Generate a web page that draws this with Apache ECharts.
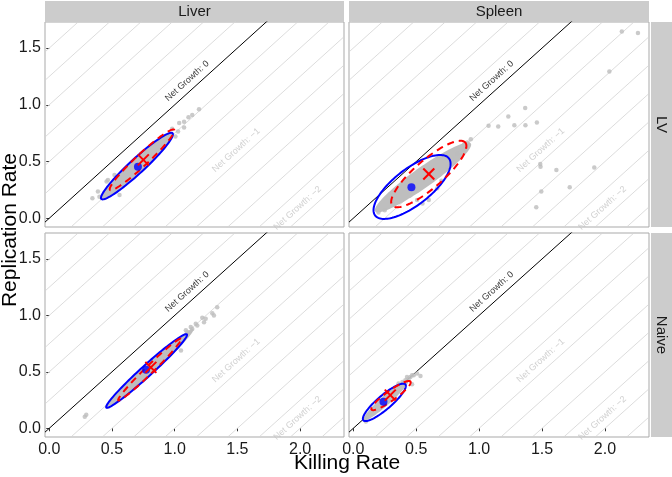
<!DOCTYPE html>
<html><head><meta charset="utf-8">
<script src="https://cdn.jsdelivr.net/npm/echarts@6/dist/echarts.min.js"></script>
<style>html,body{margin:0;padding:0;background:#fff}#c{width:672px;height:477px}</style>
</head><body><div id="c"></div>
<script>
// ---------- data ----------
const tissues = ['Liver', 'Spleen'];
const groups = ['LV', 'Naive'];
const xTicks = [0, 0.5, 1, 1.5, 2];
const yTicks = [0, 0.5, 1, 1.5];
const xLimits = [-0.034, 2.35];
const yLimits = [-0.077, 1.73];
const xTitle = 'Killing Rate';
const yTitle = 'Replication Rate';

// net growth iso-lines: replication = killing + c
const netGrowthIntercepts = [-2.5, -2.25, -2, -1.75, -1.5, -1.25, -1, -0.75, -0.5, -0.25, 0, 0.25, 0.5, 0.75, 1, 1.25, 1.5, 1.75];
const netGrowthLabelLevels = [0, -1, -2];
const netGrowthLabelText = ['Net Growth: 0', 'Net Growth: \u22121', 'Net Growth: \u22122'];
const netGrowthLabelX = [1.1, 1.49, 1.98];

// panels: 0 Liver/LV, 1 Spleen/LV, 2 Liver/Naive, 3 Spleen/Naive
const pointsLiverLV = [[0.344,0.177],[0.388,0.235],[0.40,0.19],[0.457,0.323],[0.468,0.338],[0.52,0.382],[0.547,0.279],[0.56,0.206],[0.557,0.26],[0.84,0.656],[0.85,0.67],[0.98,0.79],[1.006,0.72],[1.027,0.764],[1.036,0.84],[1.075,0.80],[1.075,0.85],[1.11,0.89],[1.14,0.91],[1.194,0.962]];
const pointsSpleenLV = [[2.134,1.647],[2.262,1.633],[2.035,1.294],[1.366,0.971],[1.232,0.897],[1.075,0.815],[1.152,0.809],[1.28,0.82],[1.368,0.82],[1.459,0.844],[0.934,0.697],[0.907,0.667],[0.88,0.65],[1.486,0.479],[1.488,0.455],[1.614,0.426],[1.915,0.447],[1.494,0.235],[1.72,0.274],[1.454,0.097],[0.827,0.574],[0.6,0.16],[0.507,0.16],[0.667,0.265],[0.55,0.13],[0.2,0.05],[0.25,0.07],[0.75,0.45],[0.7,0.33]];
const pointsLiverNaive = [[0.283,0.102],[0.295,0.12],[0.47,0.19],[1.05,0.69],[1.089,0.868],[1.10,0.853],[1.128,0.897],[1.14,0.88],[1.168,0.927],[1.18,0.91],[1.22,0.98],[1.234,0.94],[1.247,0.97],[1.30,1.02],[1.313,1.0],[1.339,1.073]];
const pointsSpleenNaive = [[0.1,0.06],[0.36,0.397],[0.39,0.41],[0.414,0.426],[0.427,0.455],[0.44,0.44],[0.454,0.455],[0.467,0.39],[0.467,0.47],[0.48,0.47],[0.507,0.485],[0.534,0.464]];

// ellipses: [centerX, centerY, majorX, majorY, minorX, minorY] (data units)
const cloudLiverLV = [0.699, 0.46, 0.284, 0.29, -0.04, 0.047];
const cloudSpleenLV = [0.554, 0.36, 0.38, 0.30, -0.047, 0.071];
const cloudLiverNaive = [0.80, 0.53, 0.35, 0.35, -0.029, 0.035];
const cloudSpleenNaive = [0.26, 0.25, 0.18, 0.18, -0.025, 0.032];

const blueEllipseLiverLV = [0.699, 0.46, 0.284, 0.29, -0.04, 0.047];
const blueEllipseSpleenLV = [0.467, 0.276, 0.293, 0.252, -0.089, 0.126];
const blueEllipseLiverNaive = [0.776, 0.508, 0.321, 0.324, -0.0295, 0.036];
const blueEllipseSpleenNaive = [0.247, 0.23, 0.167, 0.159, -0.036, 0.047];

const redEllipseLiverLV = [0.74, 0.515, 0.256, 0.265, -0.032, 0.039];
const redEllipseSpleenLV = [0.60, 0.39, 0.29, 0.278, -0.073, 0.093];
const redEllipseLiverNaive = [0.80, 0.52, 0.25, 0.272, -0.021, 0.026];
const redEllipseSpleenNaive = [0.30, 0.29, 0.154, 0.125, -0.026, 0.033];

const blueCenters = [[0.707,0.455],[0.462,0.273],[0.772,0.518],[0.24,0.235]];
const redCenters = [[0.75,0.515],[0.60,0.39],[0.81,0.54],[0.294,0.294]];

const panelPoints = [pointsLiverLV, pointsSpleenLV, pointsLiverNaive, pointsSpleenNaive];
const panelClouds = [cloudLiverLV, cloudSpleenLV, cloudLiverNaive, cloudSpleenNaive];
const panelBlue = [blueEllipseLiverLV, blueEllipseSpleenLV, blueEllipseLiverNaive, blueEllipseSpleenNaive];
const panelRed = [redEllipseLiverLV, redEllipseSpleenLV, redEllipseLiverNaive, redEllipseSpleenNaive];

// ---------- build ----------
const FONT = 'Liberation Sans, Arial, Helvetica, sans-serif';
const gridBoxes = [
  {left:45, top:22, width:299, height:205},
  {left:349, top:22, width:300, height:205},
  {left:45, top:233, width:299, height:204},
  {left:349, top:233, width:300, height:204}
];

function ellipsePoints(p) {
  const pts = [];
  const n = 120;
  for (let k = 0; k < n; k++) {
    const t = 2 * Math.PI * k / n;
    pts.push([p[0] + p[2]*Math.cos(t) + p[4]*Math.sin(t), p[1] + p[3]*Math.cos(t) + p[5]*Math.sin(t)]);
  }
  return pts;
}

function polySeries(i, pts, style, z) {
  return {
    type: 'custom', xAxisIndex: i, yAxisIndex: i, z: z, silent: true, clip: true,
    data: [[pts[0][0], pts[0][1]]],
    renderItem: function (params, api) {
      return { type: 'polygon', shape: { points: pts.map(p => api.coord(p)) }, style: style };
    }
  };
}

const grids = [], xAxes = [], yAxes = [], series = [];
for (let i = 0; i < 4; i++) {
  grids.push(Object.assign({show:true, borderColor:'#a9a9a9', borderWidth:1, backgroundColor:'#ffffff', containLabel:false}, gridBoxes[i]));
  const showX = i >= 2, showY = i % 2 === 0;
  xAxes.push({
    gridIndex:i, type:'value', min:xLimits[0], max:xLimits[1],
    axisLine:{show:false}, splitLine:{show:false},
    axisTick:{show:showX, customValues:xTicks, length:3, lineStyle:{color:'#333'}},
    axisLabel:{show:showX, customValues:xTicks, formatter:v=>v.toFixed(1), fontSize:16, color:'#1a1a1a', margin:5, fontFamily:FONT}
  });
  yAxes.push({
    gridIndex:i, type:'value', min:yLimits[0], max:yLimits[1],
    axisLine:{show:false}, splitLine:{show:false},
    axisTick:{show:showY, customValues:yTicks, length:3, lineStyle:{color:'#333'}},
    axisLabel:{show:showY, customValues:yTicks, formatter:v=>v.toFixed(1), fontSize:16, color:'#1a1a1a', margin:4, fontFamily:FONT}
  });

  // iso-lines
  netGrowthIntercepts.forEach(c => {
    series.push({
      type:'line', xAxisIndex:i, yAxisIndex:i, z:1, silent:true, symbol:'none', clip:true,
      lineStyle:{color: c === 0 ? '#000000' : '#d3d3d3', width: c === 0 ? 1 : 0.8},
      data:[[xLimits[0], xLimits[0] + c], [xLimits[1], xLimits[1] + c]]
    });
  });
  // labels
  series.push({
    type:'scatter', xAxisIndex:i, yAxisIndex:i, z:3, silent:true, symbolSize:1,
    itemStyle:{color:'rgba(0,0,0,0)'},
    data: netGrowthLabelLevels.map((c, k) => ({
      value:[netGrowthLabelX[k], netGrowthLabelX[k] + c + 0.11],
      label:{show:true, position:'inside', formatter:netGrowthLabelText[k], rotate:42, fontSize:9,
        fontFamily:FONT, color: c === 0 ? '#000000' : '#c4c4c4'}
    }))
  });
  // dense cloud
  series.push(polySeries(i, ellipsePoints(panelClouds[i]), {fill:'#bebebe', stroke:'none'}, 2));
  // points
  series.push({
    type:'scatter', xAxisIndex:i, yAxisIndex:i, z:3, silent:true, symbolSize:4.5,
    itemStyle:{color:'#bdbdbd'}, data: panelPoints[i]
  });
  // ellipses
  series.push(polySeries(i, ellipsePoints(panelBlue[i]), {fill:'none', stroke:'#0000ff', lineWidth:2}, 4));
  series.push(polySeries(i, ellipsePoints(panelRed[i]), {fill:'none', stroke:'#ff0000', lineWidth:2, lineDash:[7,5]}, 5));
  // centers
  series.push({
    type:'scatter', xAxisIndex:i, yAxisIndex:i, z:6, silent:true, symbolSize:8,
    itemStyle:{color:'#0000ff'}, data:[blueCenters[i]]
  });
  series.push({
    type:'custom', xAxisIndex:i, yAxisIndex:i, z:7, silent:true,
    data:[redCenters[i]],
    renderItem: function (params, api) {
      const c = api.coord([api.value(0), api.value(1)]);
      const s = 5.5;
      return {type:'group', children:[
        {type:'line', shape:{x1:c[0]-s, y1:c[1]-s, x2:c[0]+s, y2:c[1]+s}, style:{stroke:'#ff0000', lineWidth:2}},
        {type:'line', shape:{x1:c[0]-s, y1:c[1]+s, x2:c[0]+s, y2:c[1]-s}, style:{stroke:'#ff0000', lineWidth:2}}
      ]};
    }
  });
}

const stripFill = '#cccccc';
const graphic = [
  {type:'rect', shape:{x:45, y:1, width:299, height:21}, style:{fill:stripFill}},
  {type:'rect', shape:{x:349, y:1, width:300, height:21}, style:{fill:stripFill}},
  {type:'rect', shape:{x:651, y:22, width:21, height:205}, style:{fill:stripFill}},
  {type:'rect', shape:{x:651, y:233, width:21, height:204}, style:{fill:stripFill}},
  {type:'text', x:194.5, y:11.5, style:{text:tissues[0], fontSize:15, fontFamily:FONT, fill:'#1a1a1a', align:'center', verticalAlign:'middle'}},
  {type:'text', x:499, y:11.5, style:{text:tissues[1], fontSize:15, fontFamily:FONT, fill:'#1a1a1a', align:'center', verticalAlign:'middle'}},
  {type:'text', x:661.5, y:124.5, rotation:-Math.PI/2, style:{text:groups[0], fontSize:15, fontFamily:FONT, fill:'#1a1a1a', align:'center', verticalAlign:'middle'}},
  {type:'text', x:661.5, y:335, rotation:-Math.PI/2, style:{text:groups[1], fontSize:15, fontFamily:FONT, fill:'#1a1a1a', align:'center', verticalAlign:'middle'}},
  {type:'text', x:347, y:463, style:{text:xTitle, fontSize:21, fontFamily:FONT, fill:'#000', align:'center', verticalAlign:'middle'}},
  {type:'text', x:10, y:230, rotation:Math.PI/2, style:{text:yTitle, fontSize:21, fontFamily:FONT, fill:'#000', align:'center', verticalAlign:'middle'}}
];

const chart = echarts.init(document.getElementById('c'), null, {renderer:'canvas'});
chart.setOption({
  animation:false, backgroundColor:'#ffffff',
  grid:grids, xAxis:xAxes, yAxis:yAxes, series:series, graphic:graphic
});
</script></body></html>
